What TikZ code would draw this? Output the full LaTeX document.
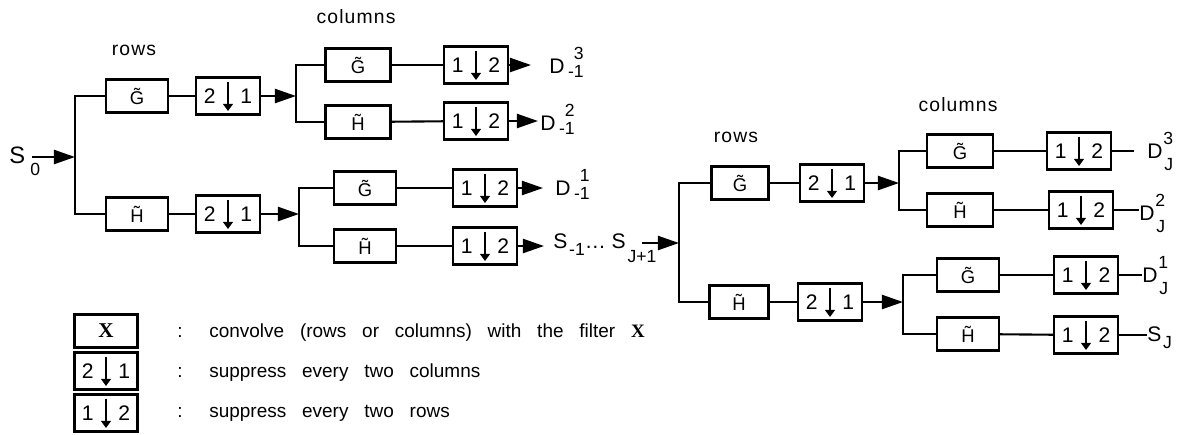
\documentclass[tikz,border=0pt]{standalone}
\usepackage{fontspec}
\setmainfont{Liberation Sans}
\newfontfamily\headfont[LetterSpace=6]{Liberation Sans}
\newfontfamily\legfont[WordSpace=3]{Liberation Sans}
\newfontfamily\xfont{Liberation Serif}
\usetikzlibrary{arrows.meta}

% raised / lowered small script
\newcommand{\scr}[2]{\raisebox{#1}{\fontsize{10}{11}\selectfont #2}}
% digits of a decimation box
\newcommand{\twodig}[2]{#1\hspace{0.5cm}#2}

\begin{document}
\begin{tikzpicture}[x=0.02cm,y=-0.02cm,>=Stealth,
    filt/.style={draw,line width=1.4pt,minimum width=1.24cm,minimum height=0.66cm,inner sep=0pt,font=\fontsize{10.5}{11}\selectfont},
    decim/.style={draw,line width=1.4pt,minimum width=1.28cm,minimum height=0.74cm,inner sep=0pt,font=\fontsize{12}{13}\selectfont,
        path picture={\draw [line width=1.3pt,-{Triangle[length=4pt,width=5.5pt]}] ([yshift=-0.08cm]path picture bounding box.north) -- ([yshift=0.07cm]path picture bounding box.south);}},
    wire/.style={line width=1.2pt},
    feed/.style={line width=1.2pt,-{Triangle[length=12pt,width=8pt]}},
    head/.style={anchor=base,font=\headfont\fontsize{11}{12}\selectfont},
    sig/.style={anchor=base west,inner sep=0pt,font=\fontsize{12}{13}\selectfont},
    legtext/.style={anchor=base west,inner sep=0pt,font=\legfont\fontsize{10.8}{12}\selectfont}]

    \useasboundingbox (0,0) rectangle (1179,434);

    % headers
    \node [head] (rowsA) at (134,55) {rows};
    \node [head] (colsA) at (356,23) {columns};
    \node [head] (rowsB) at (736,142) {rows};
    \node [head] (colsB) at (958,111) {columns};

    % input S0
    \node [sig,font=\fontsize{13.5}{14}\selectfont] (s0) at (9,163) {S\kern3pt\scr{-7pt}{0}};
    \coordinate (s0in) at (32,157);
    \coordinate (br1) at (75,157);

    % first level, rows
    \node [filt] (gr1) at (137,96) {\~{G}};
    \node [filt] (hr1) at (137,214) {\~{H}};
    \node [decim] (dr1) at (228,96) {\twodig{2}{1}};
    \node [decim] (dr1b) at (228,214) {\twodig{2}{1}};
    \coordinate (bc1) at (296,96);
    \coordinate (bc1b) at (299,214);

    % first level, columns
    \node [filt,minimum width=1.3cm] (gc1) at (358,65) {\~{G}};
    \node [filt,minimum width=1.3cm] (hc1) at (358,122) {\~{H}};
    \node [filt] (gc1b) at (365,188) {\~{G}};
    \node [filt] (hc1b) at (365,246) {\~{H}};
    \node [decim] (dc1a) at (476,65) {\twodig{1}{2}};
    \node [decim] (dc1b) at (476,121) {\twodig{1}{2}};
    \node [decim] (dc1c) at (485,188) {\twodig{1}{2}};
    \node [decim] (dc1d) at (485,246) {\twodig{1}{2}};

    \node [sig] (d13) at (549,73) {D\kern2pt\scr{-2.5pt}{-1}\llap{\scr{7.5pt}{3}}};
    \node [sig] (d12) at (540,130) {D\kern2pt\scr{-2.5pt}{-1}\llap{\scr{7.5pt}{2}}};
    \node [sig] (d11) at (555,195) {D\kern2pt\scr{-2.5pt}{-1}\llap{\scr{7.5pt}{1}}};
    \node [sig] (sj1) at (553,248) {S\kern1pt\scr{-4.5pt}{-1}\ldots\ S\kern1pt\scr{-8pt}{J+1}};
    \coordinate (sjin) at (642,243);
    \coordinate (br2) at (679,243);

    % last level, rows
    \node [filt,minimum width=1.14cm] (gr2) at (740,183) {\~{G}};
    \node [filt,minimum width=1.18cm] (hr2) at (739,302) {\~{H}};
    \node [decim] (dr2) at (832,183) {\twodig{2}{1}};
    \node [decim] (dr2b) at (830,302) {\twodig{2}{1}};
    \coordinate (bc2) at (899,183);
    \coordinate (bc2b) at (903,302);

    % last level, columns
    \node [filt,minimum width=1.32cm] (gc2) at (960,151) {\~{G}};
    \node [filt,minimum width=1.32cm] (hc2) at (960,210) {\~{H}};
    \node [filt] (gc2b) at (968,275) {\~{G}};
    \node [filt] (hc2b) at (968,334) {\~{H}};
    \node [decim] (dc2a) at (1079,151) {\twodig{1}{2}};
    \node [decim] (dc2b) at (1081,210) {\twodig{1}{2}};
    \node [decim] (dc2c) at (1086,275) {\twodig{1}{2}};
    \node [decim] (dc2d) at (1086,335) {\twodig{1}{2}};

    \node [sig] (dj3) at (1147,158) {D\kern1pt\scr{-7pt}{J}\llap{\scr{7.5pt}{3}}};
    \node [sig] (dj2) at (1139,220) {D\kern1pt\scr{-7pt}{J}\llap{\scr{7.5pt}{2}}};
    \node [sig] (dj1) at (1142,282) {D\kern1pt\scr{-7pt}{J}\llap{\scr{7.5pt}{1}}};
    \node [sig] (sj) at (1147,341) {S\kern1pt\scr{-4pt}{J}};

    % connectors, first level
    \draw [feed] (s0in) -- (br1);
    \draw [wire] (gr1.west) -| (br1) |- (hr1.west);
    \draw [wire] (gr1) -- (dr1);
    \draw [wire] (hr1) -- (dr1b);
    \draw [feed] (dr1) -- (bc1);
    \draw [feed] (dr1b) -- (bc1b);
    \draw [wire] (gc1.west) -| (bc1) |- (hc1.west);
    \draw [wire] (gc1b.west) -| (bc1b) |- (hc1b.west);
    \draw [wire] (gc1) -- (dc1a);
    \draw [wire] (hc1) -- (dc1b);
    \draw [wire] (gc1b) -- (dc1c);
    \draw [wire] (hc1b) -- (dc1d);
    \draw [feed,shorten >=0.36cm] (dc1a) -- (dc1a -| d13.west);
    \draw [feed,shorten >=0.04cm] (dc1b) -- (dc1b -| d12.west);
    \draw [feed,shorten >=0.24cm] (dc1c) -- (dc1c -| d11.west);
    \draw [feed,shorten >=0.18cm] (dc1d) -- (dc1d -| sj1.west);

    % connectors, last level
    \draw [feed] (sjin) -- (br2);
    \draw [wire] (gr2.west) -| (br2) |- (hr2.west);
    \draw [wire] (gr2) -- (dr2);
    \draw [wire] (hr2) -- (dr2b);
    \draw [feed] (dr2) -- (bc2);
    \draw [feed] (dr2b) -- (bc2b);
    \draw [wire] (gc2.west) -| (bc2) |- (hc2.west);
    \draw [wire] (gc2b.west) -| (bc2b) |- (hc2b.west);
    \draw [wire] (gc2) -- (dc2a);
    \draw [wire] (hc2) -- (dc2b);
    \draw [wire] (gc2b) -- (dc2c);
    \draw [wire] (hc2b) -- (dc2d);
    \draw [wire,shorten >=0.26cm] (dc2a) -- (dc2a -| dj3.west);
    \draw [wire] (dc2b) -- (dc2b -| dj2.west);
    \draw [wire] (dc2c) -- (dc2c -| dj1.west);
    \draw [wire] (dc2d) -- (dc2d -| sj.west);

    % legend
    \node [filt,minimum width=1.26cm,font=\xfont\bfseries\fontsize{12}{13}\selectfont] (lx) at (106,331) {X};
    \node [decim,minimum width=1.26cm] (ld1) at (106,371) {\twodig{2}{1}};
    \node [decim,minimum width=1.26cm] (ld2) at (106,413) {\twodig{1}{2}};
    \node [legtext] (lc1) at (177,337) {:};
    \node [legtext] (lc2) at (177,377) {:};
    \node [legtext] (lc3) at (177,417) {:};
    \node [legtext] (lt1) at (209,337) {convolve (rows or columns) with the filter {\xfont\bfseries X}};
    \node [legtext] (lt2) at (209,377) {suppress every two columns};
    \node [legtext] (lt3) at (209,417) {suppress every two rows};

\end{tikzpicture}
\end{document}
